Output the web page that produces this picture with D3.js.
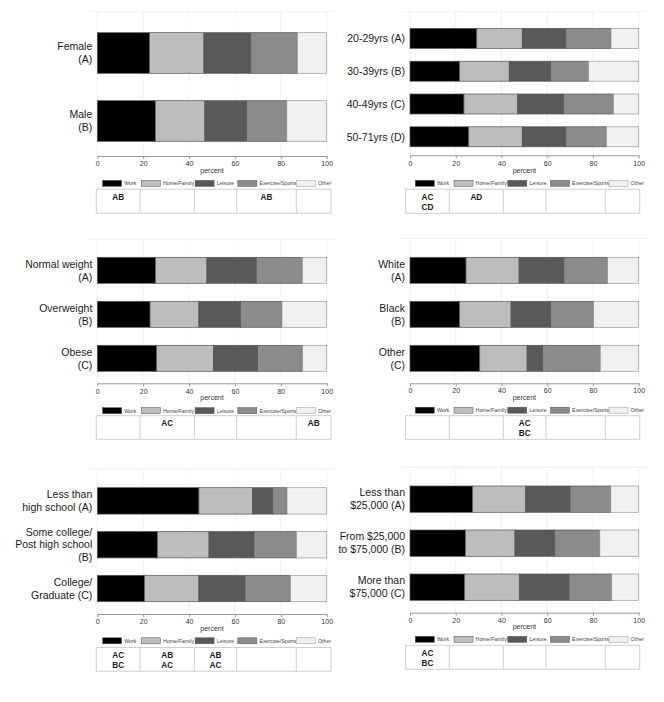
<!DOCTYPE html>
<html>
<head>
<meta charset="utf-8">
<script src="https://cdn.jsdelivr.net/npm/d3@7/dist/d3.min.js"></script>
<style>
  html, body { margin: 0; padding: 0; background: #fff; }
  svg { display: block; font-family: "Liberation Sans", Arial, sans-serif; }
</style>
</head>
<body>
<svg id="chart" width="664" height="702"></svg>
<script>
// ---------------- DATA ----------------
const segments = ["Work", "Home/Family", "Leisure", "Exercise/Sports", "Other"];
const tickValues = [0, 20, 40, 60, 80, 100];
const axisTitle = "percent";

const sexCategories = ["Female\n(A)", "Male\n(B)"];
const sexValues = [
  [22.8, 23.7, 20.4, 20.3, 12.8],
  [25.3, 21.6, 18.2, 17.5, 17.4]
];
const sexLetters = [["AB"], [], [], ["AB"], []];

const ageCategories = ["20-29yrs (A)", "30-39yrs (B)", "40-49yrs (C)", "50-71yrs (D)"];
const ageValues = [
  [29.2, 19.9, 19.0, 19.8, 12.1],
  [21.7, 21.7, 18.1, 16.6, 21.9],
  [23.6, 23.5, 20.0, 21.8, 11.1],
  [25.7, 23.4, 19.0, 17.8, 14.1]
];
const ageLetters = [["AC", "CD"], ["AD"], [], [], []];

const bmiCategories = ["Normal weight\n(A)", "Overweight\n(B)", "Obese\n(C)"];
const bmiValues = [
  [25.4, 22.4, 21.5, 20.1, 10.6],
  [23.0, 21.3, 18.1, 18.1, 19.5],
  [25.9, 24.8, 19.2, 19.6, 10.5]
];
const bmiLetters = [[], ["AC"], [], [], ["AB"]];

const raceCategories = ["White\n(A)", "Black\n(B)", "Other\n(C)"];
const raceValues = [
  [24.5, 23.2, 19.6, 19.1, 13.6],
  [21.7, 22.5, 17.3, 18.8, 19.7],
  [30.5, 20.7, 6.8, 25.2, 16.8]
];
const raceLetters = [[], [], ["AC", "BC"], [], []];

const eduCategories = ["Less than\nhigh school (A)", "Some college/\nPost high school\n(B)", "College/\nGraduate (C)"];
const eduValues = [
  [44.3, 23.4, 8.8, 6.2, 17.3],
  [26.2, 22.5, 19.6, 18.5, 13.2],
  [20.6, 23.7, 20.1, 19.8, 15.8]
];
const eduLetters = [["AC", "BC"], ["AB", "AC"], ["AB", "AC"], [], []];

const incomeCategories = ["Less than\n$25,000 (A)", "From $25,000\nto $75,000 (B)", "More than\n$75,000 (C)"];
const incomeValues = [
  [27.4, 23.2, 19.4, 17.8, 12.2],
  [24.2, 21.7, 17.4, 19.7, 17.0],
  [23.9, 23.9, 21.7, 18.7, 11.8]
];
const incomeLetters = [["AC", "BC"], [], [], [], []];

// ---------------- STYLE / LAYOUT ----------------
const segColors = ["#000000", "#bdbdbd", "#595959", "#8b8b8b", "#f0f0f0"];
const FONT_LABEL = 10.5, FONT_TICK = 7, FONT_LEG = 5.3, FONT_TABLE = 8.2;

const leftCol = { x0: 97.3, x1: 326.7, tableCols: [96.3, 140, 194.3, 236.7, 296.3, 331] };
const rightCol = { x0: 410, x1: 638.7, tableCols: [405.7, 449.3, 503.3, 546, 605.3, 639.7] };
const legendOffsets = [5.3, 44, 97.8, 140.5, 199];

const panels = [
  { cats: sexCategories, vals: sexValues, letters: sexLetters, col: leftCol,
    barTop: 32.7, step: 68, bw: 40.6, axisY: 156, frameTop: 11.7,
    tickY: 163.5, titleY: 170.8, legY: 183.4, tabTop: 189.2, tabBot: 213.3 },
  { cats: ageCategories, vals: ageValues, letters: ageLetters, col: rightCol,
    barTop: 28.4, step: 32.8, bw: 20, axisY: 155.3, frameTop: 11.7,
    tickY: 163.3, titleY: 170.7, legY: 183.3, tabTop: 189.2, tabBot: 213.3 },
  { cats: bmiCategories, vals: bmiValues, letters: bmiLetters, col: leftCol,
    barTop: 257.3, step: 44, bw: 26, axisY: 383.3, frameTop: 239.5,
    tickY: 391.3, titleY: 397.7, legY: 410.7, tabTop: 415.7, tabBot: 439.3 },
  { cats: raceCategories, vals: raceValues, letters: raceLetters, col: rightCol,
    barTop: 257.3, step: 44, bw: 26, axisY: 383.3, frameTop: 238.5,
    tickY: 390.8, titleY: 397, legY: 410.2, tabTop: 415.7, tabBot: 439.3 },
  { cats: eduCategories, vals: eduValues, letters: eduLetters, col: leftCol,
    barTop: 487.7, step: 43.8, bw: 26.4, axisY: 614, frameTop: 469.3,
    tickY: 621.6, titleY: 628.2, legY: 640.8, tabTop: 647.5, tabBot: 671.2 },
  { cats: incomeCategories, vals: incomeValues, letters: incomeLetters, col: rightCol,
    barTop: 486, step: 44, bw: 26.3, axisY: 612.7, frameTop: 467.3,
    tickY: 620.2, titleY: 626.8, legY: 639.3, tabTop: 645.3, tabBot: 669.3 }
];

// ---------------- DRAW ----------------
const svg = d3.select("#chart");

panels.forEach(p => {
  const g = svg.append("g");
  const x = d3.scaleLinear().domain([0, 100]).range([p.col.x0, p.col.x1]);
  const gap = p.step - p.bw;
  const n = p.cats.length;
  const y = d3.scaleBand()
    .domain(p.cats)
    .range([p.barTop - gap / 2, p.barTop - gap / 2 + n * p.step])
    .paddingInner(gap / p.step)
    .paddingOuter(gap / p.step / 2);

  // faint plot-region top line and vertical grid lines
  g.append("line")
    .attr("x1", x(0) - 9).attr("x2", x(100) + 9)
    .attr("y1", p.frameTop).attr("y2", p.frameTop)
    .attr("stroke", "#efefef").attr("stroke-width", 1);
  g.append("g").selectAll("line").data(tickValues).join("line")
    .attr("x1", d => x(d)).attr("x2", d => x(d))
    .attr("y1", p.frameTop).attr("y2", p.axisY)
    .attr("stroke", "#f0f0f0").attr("stroke-width", 1);

  // stacked bars
  p.cats.forEach((cat, i) => {
    const vals = p.vals[i];
    const ends = Array.from(d3.cumsum(vals));
    const rows = vals.map((v, k) => ({ k, start: ends[k] - v, end: ends[k] }));
    g.append("g").selectAll("rect").data(rows).join("rect")
      .attr("x", d => x(d.start))
      .attr("y", y(cat))
      .attr("width", d => x(d.end) - x(d.start))
      .attr("height", y.bandwidth())
      .attr("fill", d => segColors[d.k])
      .attr("stroke", d => d.k === 4 ? "#999" : "#555")
      .attr("stroke-width", 0.7);

    // category label
    const lines = cat.split("\n");
    const lh = 12.9;
    const cy = y(cat) + y.bandwidth() / 2;
    const t = g.append("text")
      .attr("text-anchor", "end")
      .attr("font-size", FONT_LABEL)
      .attr("fill", "#1a1a1a");
    lines.forEach((ln, j) => {
      t.append("tspan")
        .attr("x", x(0) - 5)
        .attr("y", cy + (j - (lines.length - 1) / 2) * lh + FONT_LABEL * 0.36)
        .text(ln);
    });
  });

  // x axis
  const ax = g.append("g")
    .attr("transform", `translate(0,${p.axisY})`)
    .call(d3.axisBottom(x).tickValues(tickValues).tickSize(3).tickSizeOuter(0));
  ax.select(".domain").attr("stroke", "#999").attr("stroke-width", 1);
  ax.selectAll(".tick line").attr("stroke", "#999");
  ax.selectAll(".tick text")
    .attr("y", p.tickY - p.axisY).attr("dy", "0.36em")
    .attr("font-size", FONT_TICK).attr("fill", "#333")
    .attr("font-family", "Liberation Sans, Arial, sans-serif");

  g.append("text")
    .attr("x", (x(0) + x(100)) / 2).attr("y", p.titleY)
    .attr("dy", "0.36em").attr("text-anchor", "middle")
    .attr("font-size", FONT_TICK).attr("fill", "#333")
    .text(axisTitle);

  // legend
  const leg = g.append("g").selectAll("g").data(segments).join("g")
    .attr("transform", (d, i) => `translate(${x(0) + legendOffsets[i]},${p.legY})`);
  leg.append("rect")
    .attr("x", 0).attr("y", -3).attr("width", 19).attr("height", 6)
    .attr("fill", (d, i) => segColors[i])
    .attr("stroke", (d, i) => i === 4 ? "#999" : "#555").attr("stroke-width", 0.5);
  leg.append("text")
    .attr("x", 21.6).attr("y", 0).attr("dy", "0.36em")
    .attr("font-size", FONT_LEG).attr("fill", "#444")
    .text(d => d);

  // significance table
  const cols = p.col.tableCols;
  g.append("rect")
    .attr("x", cols[0]).attr("y", p.tabTop)
    .attr("width", cols[cols.length - 1] - cols[0]).attr("height", p.tabBot - p.tabTop)
    .attr("fill", "none").attr("stroke", "#cfcfcf").attr("stroke-width", 1);
  g.append("g").selectAll("line").data(cols.slice(1, -1)).join("line")
    .attr("x1", d => d).attr("x2", d => d)
    .attr("y1", p.tabTop).attr("y2", p.tabBot)
    .attr("stroke", "#cfcfcf").attr("stroke-width", 1);
  p.letters.forEach((lst, c) => {
    const cx = (cols[c] + cols[c + 1]) / 2;
    lst.forEach((s, j) => {
      g.append("text")
        .attr("x", cx).attr("y", p.tabTop + 7.6 + j * 10.2)
        .attr("dy", "0.36em").attr("text-anchor", "middle")
        .attr("font-size", FONT_TABLE).attr("font-weight", "bold").attr("fill", "#1a1a1a")
        .text(s);
    });
  });
});
</script>
</body>
</html>
